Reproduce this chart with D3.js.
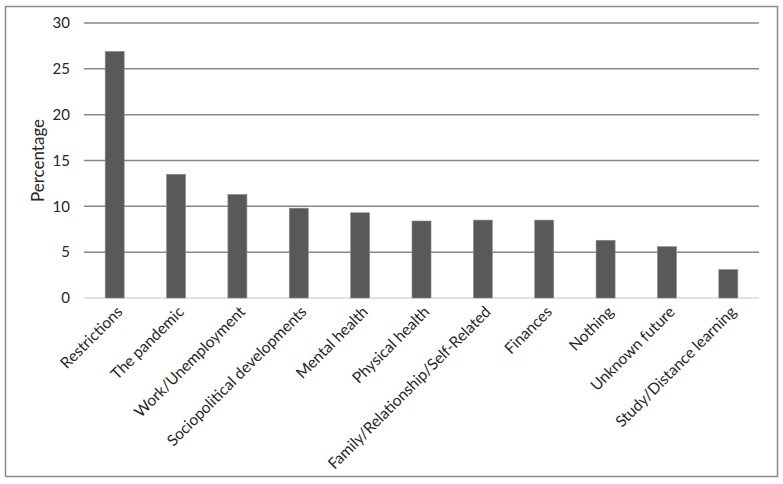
<!DOCTYPE html>
<html>
<head>
<meta charset="utf-8">
<script src="https://cdn.jsdelivr.net/npm/d3@7"></script>
<style>
  body { margin: 0; background: #fff; }
  text { font-family: Lato, "Open Sans", sans-serif; fill: #262626; }
</style>
</head>
<body>
<div id="chart"></div>
<script>
var categories = ["Restrictions", "The pandemic", "Work/Unemployment", "Sociopolitical developments",
  "Mental health", "Physical health", "Family/Relationship/Self-Related", "Finances",
  "Nothing", "Unknown future", "Study/Distance learning"];
var values = [26.9, 13.5, 11.3, 9.8, 9.3, 8.4, 8.5, 8.5, 6.3, 5.6, 3.1];
var yTicks = [0, 5, 10, 15, 20, 25, 30];

var W = 783, H = 484;
var margin = { left: 84, right: 24, top: 23, bottom: 186 };

var svg = d3.select("#chart").append("svg")
    .attr("width", W)
    .attr("height", H);

svg.append("rect")
    .attr("x", 5.5).attr("y", 6.5)
    .attr("width", 772).attr("height", 470)
    .attr("fill", "#fff")
    .attr("stroke", "#8a8a8a")
    .attr("stroke-width", 1.5);

var x = d3.scaleBand()
    .domain(categories)
    .range([margin.left, W - margin.right])
    .paddingInner(0.69)
    .paddingOuter(0.345);

var y = d3.scaleLinear()
    .domain([0, 30])
    .range([H - margin.bottom, margin.top]);

// gridlines
svg.append("g")
  .selectAll("line")
  .data(yTicks)
  .enter().append("line")
    .attr("x1", margin.left)
    .attr("x2", W - margin.right)
    .attr("y1", function(d) { return y(d); })
    .attr("y2", function(d) { return y(d); })
    .attr("stroke", function(d) { return d === 0 ? "#d9d9d9" : "#888"; })
    .attr("stroke-width", 1.5);

// y tick labels
svg.append("g")
  .selectAll("text")
  .data(yTicks)
  .enter().append("text")
    .attr("x", margin.left - 14)
    .attr("y", function(d) { return y(d); })
    .attr("dy", "0.35em")
    .attr("text-anchor", "end")
    .style("font-size", "15px")
    .text(function(d) { return d; });

// bars
svg.append("g")
  .selectAll("rect")
  .data(values)
  .enter().append("rect")
    .attr("x", function(d, i) { return x(categories[i]); })
    .attr("y", function(d) { return y(d); })
    .attr("width", x.bandwidth())
    .attr("height", function(d) { return y(0) - y(d); })
    .attr("fill", "#595959")
    .attr("stroke", "#8c8c8c")
    .attr("stroke-width", 0.6);

// x labels
svg.append("g")
  .selectAll("text")
  .data(categories)
  .enter().append("text")
    .attr("transform", function(d) {
      return "translate(" + (x(d) + x.bandwidth() / 2 + 5) + "," + (y(0) + 11) + ") rotate(-45)";
    })
    .attr("text-anchor", "end")
    .attr("dy", "0.35em")
    .style("font-size", "15.5px")
    .text(function(d) { return d; });

// y axis title
svg.append("text")
    .attr("transform", "translate(38," + y(15) + ") rotate(-90)")
    .attr("text-anchor", "middle")
    .attr("dy", "0.35em")
    .style("font-size", "17px")
    .text("Percentage");
</script>
</body>
</html>
